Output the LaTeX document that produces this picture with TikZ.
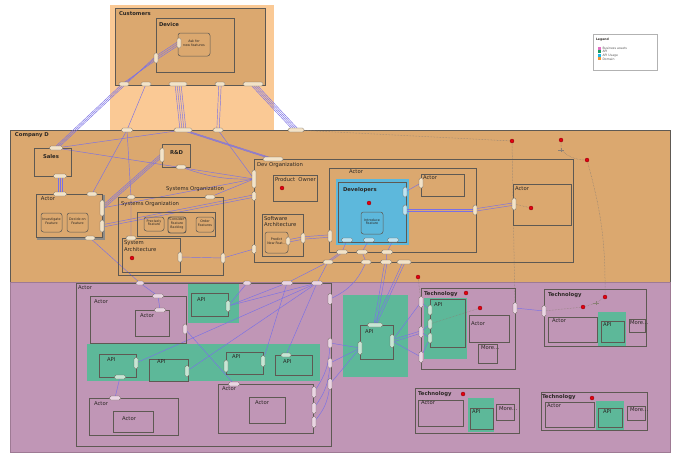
\documentclass[tikz,border=0pt]{standalone}
\usepackage{fontspec}
\setmainfont{DejaVu Sans}
\usetikzlibrary{fit}
\definecolor{ink}{HTML}{2A2623}
\definecolor{frame}{HTML}{5E5953}
\definecolor{peach}{HTML}{FAC995}
\definecolor{tan}{HTML}{DBA86F}
\definecolor{mauve}{HTML}{C096B6}
\definecolor{mauveline}{HTML}{9E7A94}
\definecolor{apigreen}{HTML}{5DB899}
\definecolor{devblue}{HTML}{5DB8DC}
\definecolor{wire}{HTML}{7A70E6}
\definecolor{portfill}{HTML}{F3E3C8}
\definecolor{portpink}{HTML}{EAD5E3}
\definecolor{portgreen}{HTML}{C6E6D4}
\definecolor{portline}{HTML}{6E665E}
\definecolor{trace}{HTML}{8A7F76}
\definecolor{alarm}{HTML}{E3000F}
\definecolor{bizpink}{HTML}{E070C2}
\definecolor{apidark}{HTML}{1D9A63}
\definecolor{usage}{HTML}{1CB8E8}
\definecolor{domain}{HTML}{F29331}
\pgfdeclarelayer{bg}
\pgfdeclarelayer{wires}
\pgfsetlayers{bg,wires,main}
\tikzset{
  every node/.style={font=\fontsize{5.3}{6.2}\selectfont, text=ink, inner sep=0pt, outer sep=0pt},
  zone/.style={draw=none, inner sep=0pt},
  box/.style={draw=frame, line width=0.6pt, inner sep=0pt},
  feat/.style={draw=frame, line width=0.5pt, rounded corners=2.5pt, inner sep=0pt, align=center,
               font=\fontsize{3.3}{3.8}\selectfont},
  lbl/.style={anchor=north west, align=left},
  hdr/.style={lbl, font=\fontsize{5.3}{6.2}\selectfont\bfseries},
  porth/.style={draw=portline, fill=portfill, line width=0.35pt, rounded corners=1.5pt,
                minimum width=#1, minimum height=4pt},
  portv/.style={draw=portline, fill=portfill, line width=0.35pt, rounded corners=1.5pt,
                minimum width=4pt, minimum height=#1},
  wire/.style={draw=wire, line width=0.45pt},
  traceline/.style={draw=trace, line width=0.5pt, densely dotted},
  reddot/.style={circle, fill=alarm, draw=alarm!60!black, line width=0.3pt, minimum size=4pt},
  swatch/.style={minimum size=3pt},
  lgd/.style={font=\fontsize{3.1}{3.6}\selectfont, text=black!65},
}
\begin{document}
\begin{tikzpicture}[x=1pt,y=-1pt]
\useasboundingbox (0,0) rectangle (678,455);

% ---------- filled zones
\begin{pgfonlayer}{bg}
\fill[white] (0,0) rectangle (678,455);
\node[zone, fill=peach, fit={(110,5) (274,130)}] (custzone) {};
\node[zone, fill=tan, draw=frame, line width=0.6pt, fit={(10,130) (670,282)}] (companyD) {};
\node[zone, fill=mauve, draw=mauveline, line width=0.5pt, fit={(10,282) (670,452)}] (assets) {};
\node[box, fill=tan, fit={(115,8) (265,85)}] (customers) {};
\node[zone, fill=devblue, fit={(336,179) (409,245)}] (devzone) {};
\node[zone, fill=apigreen, fit={(188,284) (239,323)}] (greenA) {};
\node[zone, fill=apigreen, fit={(87,344) (320,381)}] (greenStrip) {};
\node[zone, fill=apigreen, fit={(343,295) (408,377)}] (greenBig) {};
\node[zone, fill=apigreen, fit={(424,298) (467,359)}] (greenT1) {};
\node[zone, fill=apigreen, fit={(468,398) (494,432)}] (greenT2) {};
\node[zone, fill=apigreen, fit={(598,312) (626,346)}] (greenT3) {};
\node[zone, fill=apigreen, fit={(596,401) (624,430)}] (greenT4) {};
\end{pgfonlayer}

% ---------- customers
\node[hdr] (customersL) at (119,12) {Customers};
\node[box, fit={(156,18) (234,72)}] (device) {};
\node[hdr] (deviceL) at (159,22) {Device};
\node[feat, fit={(178,33) (210,56)}] (ask) {Ask for\\new features};

% ---------- company D
\node[hdr] (companyL) at (15,133) {Company D};
\node[box, fit={(34,148) (71,176)}] (sales) {};
\node[hdr] (salesL) at (43,154) {Sales};
\node[box, draw=frame!70, line width=1.4pt, fit={(38,196) (104,239)}] (actorLshadow) {};
\node[box, fill=tan, fit={(36,194) (102,237)}] (actorL) {};
\node[lbl] (actorLL) at (41,197) {Actor};
\node[feat, fit={(41,213) (62,232)}] (investigate) {Investigate\\Feature};
\node[feat, fit={(67,213) (88,232)}] (decide) {Decide on\\Feature};
\node[box, fit={(162,144) (190,167)}] (rnd) {};
\node[hdr] (rndL) at (170,151) {R\&D};
\node[lbl] (sysorgFloat) at (166,186) {Systems Organization};
\node[box, fit={(118,197) (223,275)}] (sysorg) {};
\node[lbl] (sysorgL) at (121,201) {Systems Organization};
\node[box, fit={(137,212) (215,236)}] (sysorgIn) {};
\node[feat, fit={(144,217) (164,231)}] (precisely) {Precisely\\Feature};
\node[feat, line width=0.9pt, fit={(168,217) (186,233)}] (consider) {Consider\\Feature\\Backlog};
\node[feat, fit={(196,217) (214,232)}] (order) {Order\\Features};
\node[box, fit={(122,238) (180,272)}] (sysarch) {};
\node[lbl] (sysarchL) at (124,241) {System\\Architecture};
\node[reddot] (dotArch) at (132,258) {};

\node[box, fit={(254,159) (573,262)}] (devorg) {};
\node[lbl] (devorgL) at (257,162) {Dev Organization};
\node[box, fit={(273,175) (317,201)}] (prodowner) {};
\node[lbl] (prodownerL) at (275,177) {Product\ \ Owner};
\node[reddot] (dotOwner) at (282,188) {};
\node[box, fit={(262,214) (303,256)}] (swarch) {};
\node[lbl] (swarchL) at (264,216) {Software\\Architecture};
\node[feat, align=left, fit={(265,232) (288,253)}] (predict) {Predict\\New Feat...};
\node[box, fit={(329,168) (476,252)}] (actorMid) {};
\node[lbl] (actorMidL) at (349,170) {Actor};
\node[box, fit={(338,182) (406,242)}] (devs) {};
\node[hdr] (devsL) at (343,187) {Developers};
\node[reddot] (dotDevs) at (369,203) {};
\node[feat, fit={(361,212) (383,234)}] (introduce) {Introduce\\Feature};
\node[box, fit={(421,174) (464,196)}] (actorIn) {};
\node[lbl] (actorInL) at (423,176) {Actor};
\node[box, fit={(513,184) (571,225)}] (actorR) {};
\node[lbl] (actorRL) at (515,187) {Actor};

% ---------- business assets
\node[box, fit={(76,283) (331,446)}] (actorBig) {};
\node[lbl] (actorBigL) at (78,286) {Actor};
\node[box, fit={(90,296) (186,343)}] (actorA) {};
\node[lbl] (actorAL) at (94,300) {Actor};
\node[box, fit={(135,310) (169,336)}] (actorAa) {};
\node[lbl] (actorAaL) at (140,314) {Actor};
\node[box, fit={(191,293) (228,316)}] (apiA) {};
\node[lbl] (apiAL) at (197,298) {API};
\node[box, fit={(99,354) (136,377)}] (apiB) {};
\node[lbl] (apiBL) at (107,358) {API};
\node[box, fit={(149,359) (188,381)}] (apiC) {};
\node[lbl] (apiCL) at (157,360) {API};
\node[box, fit={(226,352) (263,374)}] (apiD) {};
\node[lbl] (apiDL) at (232,355) {API};
\node[box, fit={(275,355) (312,375)}] (apiE) {};
\node[lbl] (apiEL) at (283,360) {API};
\node[box, fit={(89,398) (178,435)}] (actorC) {};
\node[lbl] (actorCL) at (94,402) {Actor};
\node[box, fit={(113,411) (153,432)}] (actorCc) {};
\node[lbl] (actorCcL) at (122,417) {Actor};
\node[box, fit={(218,384) (313,433)}] (actorD) {};
\node[lbl] (actorDL) at (222,387) {Actor};
\node[box, fit={(249,397) (285,423)}] (actorDd) {};
\node[lbl] (actorDdL) at (255,401) {Actor};
\node[box, fit={(360,325) (393,359)}] (apiBig) {};
\node[lbl] (apiBigL) at (365,330) {API};

% technologies
\node[box, fit={(421,288) (515,369)}] (tech1) {};
\node[hdr] (tech1L) at (424,291) {Technology};
\node[reddot] (dotT1) at (466,293) {};
\node[box, fit={(430,299) (465,347)}] (apiT1) {};
\node[lbl] (apiT1L) at (434,303) {API};
\node[box, fit={(469,315) (509,342)}] (actorT1) {};
\node[lbl] (actorT1L) at (471,322) {Actor};
\node[box, fit={(478,344) (497,363)}] (moreT1) {};
\node[lbl] (moreT1L) at (481,346) {More...};
\node[reddot] (dotT1b) at (480,308) {};

\node[box, fit={(415,388) (519,433)}] (tech2) {};
\node[hdr] (tech2L) at (418,391) {Technology};
\node[reddot] (dotT2) at (463,394) {};
\node[box, fit={(418,400) (463,426)}] (actorT2) {};
\node[lbl] (actorT2L) at (421,401) {Actor};
\node[box, fit={(470,408) (493,429)}] (apiT2) {};
\node[lbl] (apiT2L) at (472,410) {API};
\node[box, fit={(496,404) (514,420)}] (moreT2) {};
\node[lbl] (moreT2L) at (499,407) {More...};

\node[box, fit={(544,289) (646,346)}] (tech3) {};
\node[hdr] (tech3L) at (548,292) {Technology};
\node[box, fit={(548,317) (597,342)}] (actorT3) {};
\node[lbl] (actorT3L) at (552,319) {Actor};
\node[box, fit={(601,321) (624,342)}] (apiT3) {};
\node[lbl] (apiT3L) at (603,323) {API};
\node[box, fit={(629,319) (645,332)}] (moreT3) {};
\node[lbl] (moreT3L) at (630,321) {More...};

\node[box, fit={(541,392) (647,430)}] (tech4) {};
\node[hdr] (tech4L) at (542,394) {Technology};
\node[reddot] (dotT4) at (592,398) {};
\node[box, fit={(545,402) (594,427)}] (actorT4) {};
\node[lbl] (actorT4L) at (547,404) {Actor};
\node[box, fit={(598,408) (622,427)}] (apiT4) {};
\node[lbl] (apiT4L) at (603,410) {API};
\node[box, fit={(627,406) (645,420)}] (moreT4) {};
\node[lbl] (moreT4L) at (630,408) {More...};

% ---------- legend
\node[box, draw=black!30, line width=0.4pt, fill=white, fit={(593,34) (657,70)}] (legend) {};
\node[lgd, anchor=north west, font=\fontsize{3.1}{3.6}\selectfont\bfseries, text=ink] (legendL) at (596,38) {Legend};
\foreach \c/\t [count=\i] in {bizpink/Business assets, apidark/API, usage/API Usage, domain/Domain}{
  \node[swatch, fill=\c] (sw\i) at (599,44.5+3.6*\i) {};
  \node[lgd, anchor=west] (lg\i) at (602.5,44.5+3.6*\i) {\t};
}

% ---------- ports: customers and company edge
\node[portv=10pt] (pAsk) at (179,43) {};
\node[portv=10pt] (pDevL) at (156,58) {};
\node[porth=10pt] (pCu1) at (124,84) {};
\node[porth=10pt] (pCu2) at (146,84) {};
\node[porth=18pt] (pCu3) at (178,84) {};
\node[porth=10pt] (pCu4) at (220,84) {};
\node[porth=20pt] (pCu5) at (253,84) {};
\node[porth=11pt] (pD1) at (127,130) {};
\node[porth=18pt] (pD2) at (183,130) {};
\node[porth=10pt] (pD3) at (218,130) {};
\node[porth=16pt] (pD4) at (296,130) {};
% ports: company D inside
\node[porth=13pt] (pSalesT) at (56,148) {};
\node[porth=13pt] (pSalesB) at (60,176) {};
\node[porth=13pt] (pAcT1) at (60,194) {};
\node[porth=10pt] (pAcT2) at (92,194) {};
\node[portv=16pt] (pAcR1) at (102,208) {};
\node[portv=12pt] (pAcR2) at (102,226) {};
\node[porth=10pt] (pAcB) at (90,238) {};
\node[portv=14pt] (pRdL) at (162,155) {};
\node[porth=10pt] (pRdB) at (181,167) {};
\node[porth=8pt] (pSoT1) at (131,197) {};
\node[porth=10pt] (pSoT2) at (210,197) {};
\node[portv=10pt] (pSoR) at (223,258) {};
\node[porth=10pt] (pArchT) at (131,238) {};
\node[portv=10pt] (pArchR) at (180,257) {};
\node[porth=20pt] (pDvT) at (273,159) {};
\node[portv=18pt] (pDvL1) at (254,179) {};
\node[portv=9pt] (pDvL2) at (254,196) {};
\node[portv=9pt] (pDvL3) at (254,249) {};
\node[porth=10pt] (pDvB1) at (328,262) {};
\node[porth=10pt] (pDvB2) at (366,262) {};
\node[porth=11pt] (pDvB3) at (386,262) {};
\node[porth=14pt] (pDvB4) at (404,262) {};
\node[porth=11pt] (pAmB1) at (342,252) {};
\node[porth=11pt] (pAmB2) at (362,252) {};
\node[porth=11pt] (pAmB3) at (387,252) {};
\node[porth=11pt, fill=devblue!40] (pDeB1) at (347,240) {};
\node[porth=11pt, fill=devblue!40] (pDeB2) at (369,240) {};
\node[porth=11pt, fill=devblue!40] (pDeB3) at (393,240) {};
\node[portv=10pt, fill=devblue!40] (pDeR1) at (405,192) {};
\node[portv=10pt, fill=devblue!40] (pDeR2) at (405,210) {};
\node[portv=10pt] (pAiL) at (421,183) {};
\node[portv=10pt] (pAmR) at (475,210) {};
\node[portv=12pt] (pArL) at (514,204) {};
\node[portv=12pt] (pAmL) at (330,236) {};
\node[portv=10pt] (pSwR) at (303,238) {};
\node[portv=8pt] (pPrR) at (288,241) {};
% ports: business assets
\node[porth=8pt, fill=portpink] (pPt1) at (140,283) {};
\node[porth=8pt, fill=portpink] (pPt2) at (247,283) {};
\node[porth=11pt, fill=portpink] (pPt3) at (287,283) {};
\node[porth=11pt, fill=portpink] (pPt4) at (317,283) {};
\node[porth=11pt, fill=portpink] (pAaT) at (158,296) {};
\node[porth=11pt, fill=portpink] (pAaaT) at (160,310) {};
\node[portv=10pt, fill=portpink] (pAaR) at (185,329) {};
\node[portv=11pt, fill=portgreen] (pApiAR) at (228,306) {};
\node[portv=11pt, fill=portpink] (pBr1) at (330,299) {};
\node[portv=10pt, fill=portpink] (pBr2) at (330,343) {};
\node[portv=10pt, fill=portpink] (pBr3) at (330,363) {};
\node[portv=11pt, fill=portpink] (pBr4) at (330,384) {};
\node[portv=11pt, fill=portgreen] (pApiBR) at (136,363) {};
\node[porth=11pt, fill=portgreen] (pApiBB) at (120,377) {};
\node[portv=11pt, fill=portgreen] (pApiCR) at (187,371) {};
\node[portv=12pt, fill=portgreen] (pApiDL) at (226,366) {};
\node[portv=11pt, fill=portgreen] (pApiDR) at (263,361) {};
\node[porth=10pt, fill=portgreen] (pApiET) at (286,355) {};
\node[porth=11pt, fill=portpink] (pAcCT) at (115,398) {};
\node[porth=11pt, fill=portpink] (pAcDT) at (234,384) {};
\node[portv=11pt, fill=portpink] (pAcDR1) at (314,392) {};
\node[portv=11pt, fill=portpink] (pAcDR2) at (314,408) {};
\node[portv=11pt, fill=portpink] (pAcDR3) at (314,422) {};
\node[porth=15pt, fill=portgreen] (pBigT) at (375,325) {};
\node[portv=13pt, fill=portgreen] (pBigL) at (360,348) {};
\node[portv=13pt, fill=portgreen] (pBigR) at (392,341) {};
\node[portv=11pt, fill=portpink] (pT1L1) at (421,302) {};
\node[portv=11pt, fill=portpink] (pT1L2) at (421,332) {};
\node[portv=11pt, fill=portpink] (pT1L3) at (421,357) {};
\node[portv=10pt, fill=portgreen] (pT1aL1) at (430,310) {};
\node[portv=10pt, fill=portgreen] (pT1aL2) at (430,324) {};
\node[portv=10pt, fill=portgreen] (pT1aL3) at (430,338) {};
\node[portv=11pt, fill=portpink] (pT1R) at (515,308) {};
\node[portv=11pt, fill=portpink] (pT3L) at (544,311) {};

% ---------- red markers on the right
\node[reddot] (dot1) at (512,141) {};
\node[reddot] (dot2) at (561,140) {};
\node[reddot] (dot3) at (587,160) {};
\node[reddot] (dotAR) at (531,208) {};
\node[reddot] (dotEdge) at (418,277) {};
\node[reddot] (dot4) at (583,307) {};
\node[reddot] (dot5) at (605,297) {};
\coordinate (cross1) at (561,150);
\coordinate (cross2) at (596,303);
\draw[trace, line width=0.5pt] ([xshift=-3pt]cross1) -- ([xshift=3pt]cross1);
\draw[trace, line width=0.5pt] ([yshift=-2pt]cross1) -- ([yshift=2pt]cross1);
\draw[trace, line width=0.5pt] ([xshift=-3pt]cross2) -- ([xshift=3pt]cross2);
\draw[trace, line width=0.5pt] ([yshift=-2pt]cross2) -- ([yshift=2pt]cross2);

% ---------- connectors
\begin{pgfonlayer}{wires}
\foreach \o in {-2,0,2}{
  \draw[wire] ([yshift=\o pt]pAsk.center) -- ([yshift=\o pt]pDevL.center);
  \draw[wire] ([yshift=\o pt]pDevL.center) -- ([xshift=\o pt]pCu1.center);
  \draw[wire] ([xshift=\o pt]pCu1.center) -- ([xshift=\o pt]pSalesT.center);
  \draw[wire] ([xshift=\o pt]pSalesB.center) -- ([xshift=\o pt]pAcT1.center);
  \draw[wire] ([yshift=\o pt]pAcR1.center) -- ([yshift=\o pt]pRdL.center);
  \draw[wire] ([xshift=\o pt]pD2.center) -- ([xshift=\o pt]pDvT.center);
}
\foreach \o in {-3,-1,1,3}{
  \draw[wire] ([xshift=\o pt]pCu3.center) -- ([xshift=\o pt]pD2.center);
  \draw[wire] ([xshift=\o pt]pCu5.center) -- ([xshift=\o pt]pD4.center);
}
\foreach \o in {-1.2,1.2}{
  \draw[wire] ([xshift=\o pt]pCu4.center) -- ([xshift=\o pt]pD3.center);
  \draw[wire] ([yshift=\o pt]pAcR2.center) -- ([yshift=\o pt]pDvL2.center);
  \draw[wire] ([yshift=\o pt]pPrR.center) -- ([yshift=\o pt]pSwR.center);
  \draw[wire] ([yshift=\o pt]pSwR.center) -- ([yshift=\o pt]pAmL.center);
  \draw[wire] ([yshift=\o pt]pDeR2.center) -- ([yshift=\o pt]pAmR.center);
  \draw[wire] ([yshift=\o pt]pAmR.center) -- ([yshift=\o pt]pArL.center);
  \draw[wire] ([xshift=\o pt]pAmB1.center) -- ([xshift=\o pt]pDvB1.center);
  \draw[wire] ([xshift=\o pt]pDvB3.center) -- ([xshift=\o pt]pBigT.center);
  \draw[wire] ([xshift=\o pt]pDvB4.center) -- ([xshift=\o pt]pBigT.center);
  \draw[wire] ([yshift=\o pt]pBigR.center) -- ([yshift=\o pt]pT1L2.center);
}
\draw[wire] (pCu2) -- (pD1);
\draw[wire] (pD1) -- (pAcT2);
\draw[wire] (pD1) -- (pSoT1) -- (pArchT);
\draw[wire] (pD3) -- (pDvL1);
\draw[wire] (pSalesT) -- (pD2);
\draw[wire] (pSalesT) -- (pDvL1);
\draw[wire] (pAcR1) -- (pDvL1);
\draw[wire] (pAcB) -- (pPt1);
\draw[wire] (pRdB) to[bend right=10] (pDvL1);
\draw[wire] (pSoT2) -- (pDvL1);
\draw[wire] (pArchR) -- (pSoR);
\draw[wire] (pSoR) -- (pDvL3);
\draw[wire] (pDeR1) -- (pAiL);
\draw[wire] (pDeB1) -- (pAmB1);
\draw[wire] (pDeB2) -- (pAmB2);
\draw[wire] (pDeB3) -- (pAmB3);
\draw[wire] (pAmB2) -- (pDvB2);
\draw[wire] (pAmB3) -- (pDvB3);
\draw[wire] (pDvB1) -- (pPt3);
\draw[wire] (pDvB1) -- (pPt4);
\draw[wire] (pDvB2) to[bend left=20] (pBr1);
\draw[wire] (pPt1) -- (pAaT) -- (pAaaT);
\draw[wire] (pPt2) -- (pApiAR);
\draw[wire] (pPt3) -- (pApiAR);
\draw[wire] (pPt4) -- (pApiAR);
\draw[wire] (pPt4) -- (pApiBR);
\draw[wire] (pPt4) -- (pApiCR);
\draw[wire] (pPt3) -- (pApiDR);
\draw[wire] (pPt4) -- (pApiET);
\draw[wire] (pAaR) -- (pAcDT);
\draw[wire] (pApiBB) -- (pAcCT);
\draw[wire] (pAcDR1) to[bend right=15] (pBr2);
\draw[wire] (pAcDR2) to[bend right=15] (pBr3);
\draw[wire] (pAcDR3) to[bend right=15] (pBr4);
\draw[wire] (pBr2) -- (pBigL);
\draw[wire] (pBr3) -- (pBigL);
\draw[wire] (pBr4) -- (pBigL);
\draw[wire] (pBigR) -- (pT1L1);
\draw[wire] (pBigR) -- (pT1L3);
\draw[wire] (pT1L1) -- (pT1aL1);
\draw[wire] (pT1L2) -- (pT1aL2);
\draw[wire] (pT1L2) -- (pT1aL3);
\draw[wire] (pT1L3) -- (pT1aL3);
\draw[wire] (pT1R) -- (pT3L);
% dotted traces
\draw[traceline] (pD4) -- (dot1);
\draw[traceline] (dot1) -- (pT1R);
\draw[traceline] (dot2) -- (cross1) to[bend right=20] (dot3);
\draw[traceline] (dot3) to[bend left=8] (dot5);
\draw[traceline] (dot5) -- (cross2) -- (dot4) -- (pT3L);
\draw[traceline] (pArL) -- (dotAR);
\draw[traceline] (dotEdge) -- (pT1L1);
\draw[traceline] (dotT1b) -- (pT1aL2);
\end{pgfonlayer}
\end{tikzpicture}
\end{document}
